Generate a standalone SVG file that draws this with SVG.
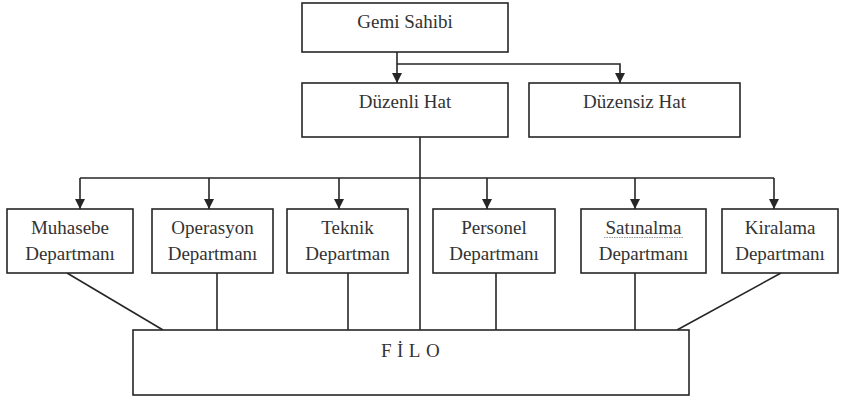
<svg xmlns="http://www.w3.org/2000/svg" width="843" height="400" viewBox="0 0 843 400">
  <style>
    .box { fill: #ffffff; stroke: #262626; stroke-width: 1.6; }
    .lbl { font-family: "Liberation Serif", "Times New Roman", serif; font-size: 19px; fill: #333333; text-anchor: middle; }
    .wire { fill: none; stroke: #262626; stroke-width: 1.6; }
    .filo { letter-spacing: 5.5px; }
  </style>
  <defs>
    <marker id="arrow" markerWidth="10" markerHeight="10" refX="10" refY="5" orient="auto" markerUnits="userSpaceOnUse">
      <path d="M0,0 L10,5 L0,10 Z" fill="#262626"/>
    </marker>
  </defs>
  <rect width="843" height="400" fill="#ffffff"/>

  <!-- connectors -->
  <g id="connectors" class="wire">
    <!-- owner to line services -->
    <path d="M397,52 V83" marker-end="url(#arrow)"/>
    <path d="M397,64 H620 V83" marker-end="url(#arrow)"/>
    <!-- liner service to departments -->
    <path d="M420,137 V330"/>
    <path d="M80,178 H774"/>
    <path d="M80,178 V209" marker-end="url(#arrow)"/>
    <path d="M209,178 V209" marker-end="url(#arrow)"/>
    <path d="M339,178 V209" marker-end="url(#arrow)"/>
    <path d="M487,178 V209" marker-end="url(#arrow)"/>
    <path d="M635,178 V209" marker-end="url(#arrow)"/>
    <path d="M774,178 V209" marker-end="url(#arrow)"/>
    <!-- departments to fleet -->
    <path d="M67,273 L163,330"/>
    <path d="M217,273 V330"/>
    <path d="M348,273 V330"/>
    <path d="M496,273 V330"/>
    <path d="M635,273 V330"/>
    <path d="M781,273 L677,330"/>
  </g>

  <g id="gemi-sahibi">
    <rect class="box" x="302" y="3" width="206" height="49"/>
    <text class="lbl" x="405" y="28">Gemi Sahibi</text>
  </g>

  <g id="duzenli-hat">
    <rect class="box" x="302" y="83" width="206" height="54"/>
    <text class="lbl" x="405" y="108">Düzenli Hat</text>
  </g>

  <g id="duzensiz-hat">
    <rect class="box" x="529" y="83" width="211" height="54"/>
    <text class="lbl" x="634.5" y="108">Düzensiz Hat</text>
  </g>

  <g id="muhasebe">
    <rect class="box" x="7" y="209" width="126" height="64"/>
    <text class="lbl" x="70" y="234">Muhasebe</text>
    <text class="lbl" x="70" y="260">Departmanı</text>
  </g>

  <g id="operasyon">
    <rect class="box" x="152" y="209" width="121" height="64"/>
    <text class="lbl" x="212.5" y="234">Operasyon</text>
    <text class="lbl" x="212.5" y="260">Departmanı</text>
  </g>

  <g id="teknik">
    <rect class="box" x="287" y="209" width="121" height="64"/>
    <text class="lbl" x="347.5" y="234">Teknik</text>
    <text class="lbl" x="347.5" y="260">Departman</text>
  </g>

  <g id="personel">
    <rect class="box" x="433" y="209" width="122" height="64"/>
    <text class="lbl" x="494" y="234">Personel</text>
    <text class="lbl" x="494" y="260">Departmanı</text>
  </g>

  <g id="satinalma">
    <rect class="box" x="581" y="209" width="125" height="64"/>
    <text class="lbl" x="643.5" y="234">Satınalma</text>
    <path d="M604,237.5 H683" stroke="#9a9a9a" stroke-width="1" stroke-dasharray="1.5,1" fill="none"/>
    <text class="lbl" x="643.5" y="260">Departmanı</text>
  </g>

  <g id="kiralama">
    <rect class="box" x="722" y="209" width="116" height="64"/>
    <text class="lbl" x="780" y="234">Kiralama</text>
    <text class="lbl" x="780" y="260">Departmanı</text>
  </g>

  <g id="filo">
    <rect class="box" x="133" y="330" width="556" height="65"/>
    <text class="lbl filo" x="413" y="357">FİLO</text>
  </g>
</svg>
